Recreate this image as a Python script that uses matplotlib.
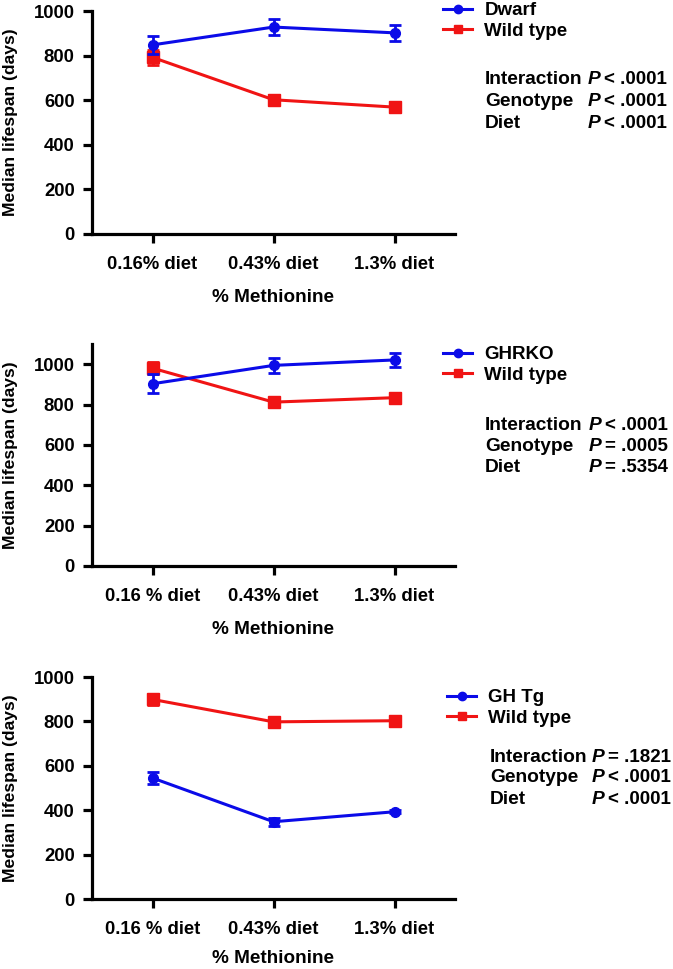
import numpy as np
import matplotlib
matplotlib.use("Agg")
import matplotlib.pyplot as plt
from matplotlib.lines import Line2D

plt.rcParams['font.family'] = ['Liberation Sans', 'DejaVu Sans']
plt.rcParams['font.weight'] = 'bold'

W, H = 673, 969
BLUE = '#0b0be8'
RED = '#f01414'
FS = 13.3

# data (median lifespan, days)
diets_1 = ['0.16% diet', '0.43% diet', '1.3% diet']
diets_2 = ['0.16 % diet', '0.43% diet', '1.3% diet']

dwarf = [848, 928, 902]
dwarf_err = [40, 37, 37]
wt_1 = [792, 602, 569]
wt_1_err = [33, 23, 21]

ghrko = [903, 994, 1021]
ghrko_err = [46, 38, 35]
wt_2 = [980, 812, 834]
wt_2_err = [30, 21, 22]

ghtg = [545, 348, 393]
ghtg_err = [26, 18, 7]
wt_3 = [899, 798, 803]
wt_3_err = [26, 20, 23]

mutants = ['Dwarf', 'GHRKO', 'GH Tg']
stats = [
    [('Interaction', '< .0001'), ('Genotype', '< .0001'), ('Diet', '< .0001')],
    [('Interaction', '< .0001'), ('Genotype', '= .0005'), ('Diet', '= .5354')],
    [('Interaction', '= .1821'), ('Genotype', '< .0001'), ('Diet', '< .0001')],
]

fig = plt.figure(figsize=(W / 100, H / 100), dpi=100)

def fx(x):
    return x / W

def fy(y):
    return 1 - y / H

# axes boxes in pixels: left, top, right, bottom
boxes = [(92, 11, 455, 234), (92, 344, 455, 566), (92, 677, 455, 899)]
ylims = [1000, 1100, 1000]
mut_vals = [(dwarf, dwarf_err), (ghrko, ghrko_err), (ghtg, ghtg_err)]
wt_vals = [(wt_1, wt_1_err), (wt_2, wt_2_err), (wt_3, wt_3_err)]
xlabels = [diets_1, diets_2, diets_2]
xlab_pad = [12, 12, 9]
# legend top-left (pixels) and stats rows (label x, P x, first row y, row step)
leg_pos = [(443, 2), (443, 346), (447, 689)]
stat_pos = [(485, 588, 80, 22), (485, 589, 425, 21), (490, 592, 757, 21)]

for i in range(3):
    l, t, r, b = boxes[i]
    ax = fig.add_axes([fx(l), fy(b), fx(r) - fx(l), fy(t) - fy(b)])
    x = np.arange(3)
    m, me = mut_vals[i]
    w, we = wt_vals[i]
    ax.errorbar(x, w, yerr=we, color=RED, marker='s', ms=8, lw=2.2,
                capsize=4.5, capthick=2, elinewidth=2, zorder=3)
    ax.errorbar(x, m, yerr=me, color=BLUE, marker='o', ms=7, lw=2.2,
                capsize=4.5, capthick=2, elinewidth=2, zorder=4)
    ax.set_xlim(-0.5, 2.5)
    ax.set_ylim(0, ylims[i])
    ax.set_yticks([0, 200, 400, 600, 800, 1000])
    ax.set_xticks(x)
    ax.set_xticklabels(xlabels[i])
    ax.spines['top'].set_visible(False)
    ax.spines['right'].set_visible(False)
    for s in ['left', 'bottom']:
        ax.spines[s].set_linewidth(2.3)
    ax.tick_params(axis='both', width=2.3, length=6.5, labelsize=FS)
    ax.tick_params(axis='y', pad=6)
    ax.tick_params(axis='x', pad=9)
    ax.set_ylabel('Median lifespan (days)', fontsize=12.6, fontweight='bold', labelpad=11)
    ax.set_xlabel('% Methionine', fontsize=13.6, fontweight='bold', labelpad=xlab_pad[i])
    for lab in ax.get_xticklabels() + ax.get_yticklabels():
        lab.set_fontweight('bold')

    handles = [Line2D([], [], color=BLUE, marker='o', ms=6, lw=2.2),
               Line2D([], [], color=RED, marker='s', ms=6, lw=2.2)]
    lx, ly = leg_pos[i]
    ax.legend(handles, [mutants[i], 'Wild type'], loc='upper left',
              bbox_to_anchor=(fx(lx), fy(ly)), bbox_transform=fig.transFigure,
              frameon=False, prop={'size': 13.5, 'weight': 'bold'},
              handlelength=1.55, handletextpad=0.65, labelspacing=0.2,
              borderpad=0, borderaxespad=0)

    sx, px, sy, step = stat_pos[i]
    for j, (name, val) in enumerate(stats[i]):
        yy = sy + j * step
        fig.text(fx(sx), fy(yy), name, fontsize=13.8, fontweight='bold', va='center')
        fig.text(fx(px), fy(yy), 'P', fontsize=13.8, fontweight='bold',
                 style='italic', va='center')
        fig.text(fx(px + 16), fy(yy), val, fontsize=13.5, fontweight='bold', va='center')

fig.savefig('out.png', dpi=100)
